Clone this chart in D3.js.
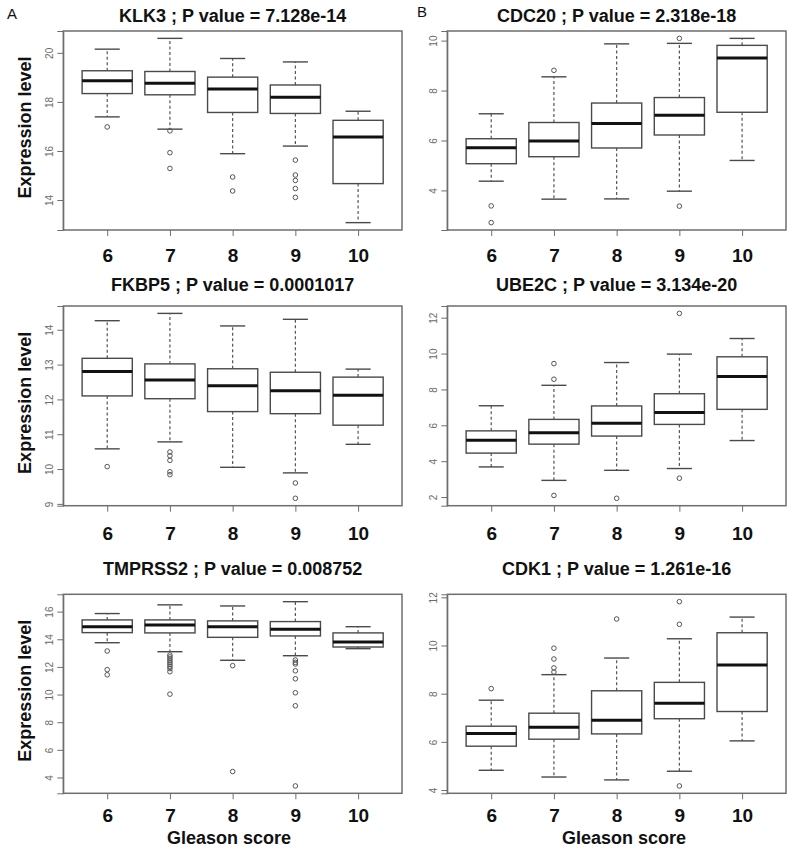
<!DOCTYPE html>
<html>
<head>
<meta charset="utf-8">
<script src="https://cdn.jsdelivr.net/npm/d3@7"></script>
<style>
  html, body { margin: 0; padding: 0; background: #fff; }
  svg { display: block; }
  text { font-family: "Liberation Sans", Arial, Helvetica, sans-serif; }
</style>
</head>
<body>
<svg id="chart" width="792" height="851"></svg>
<script>
// ---------- DATA ----------
const categories = ["6", "7", "8", "9", "10"];

// each row: [lower whisker, Q1, median, Q3, upper whisker]
const klk3Stats = [
  [17.39, 18.34, 18.86, 19.27, 20.15],
  [16.89, 18.29, 18.76, 19.24, 20.59],
  [15.89, 17.57, 18.53, 19.01, 19.77],
  [16.20, 17.53, 18.19, 18.69, 19.63],
  [13.08, 14.67, 16.57, 17.25, 17.62]
];
const klk3Outliers = [[16.98], [16.82, 15.93, 15.29], [14.94, 14.37], [15.63, 15.02, 14.80, 14.47, 14.11], []];

const cdc20Stats = [
  [4.37, 5.07, 5.71, 6.07, 7.07],
  [3.65, 5.35, 5.98, 6.72, 8.55],
  [3.66, 5.70, 6.68, 7.50, 9.87],
  [3.97, 6.22, 7.01, 7.72, 9.89],
  [5.20, 7.13, 9.30, 9.81, 10.09]
];
const cdc20Outliers = [[3.38, 2.71], [8.81], [], [10.09, 3.37], []];

const fkbp5Stats = [
  [10.58, 12.10, 12.80, 13.18, 14.26],
  [10.78, 12.02, 12.56, 13.02, 14.47],
  [10.05, 11.65, 12.39, 12.88, 14.11],
  [9.89, 11.59, 12.25, 12.78, 14.30],
  [10.71, 11.26, 12.12, 12.64, 12.87]
];
const fkbp5Outliers = [[10.07], [10.49, 10.38, 10.25, 9.92, 9.84], [], [9.60, 9.16], []];

const ube2cStats = [
  [3.68, 4.45, 5.17, 5.69, 7.09],
  [2.93, 4.95, 5.58, 6.33, 8.23],
  [3.49, 5.40, 6.12, 7.08, 9.50],
  [3.59, 6.05, 6.72, 7.76, 9.97],
  [5.15, 6.89, 8.72, 9.82, 10.84]
];
const ube2cOutliers = [[], [9.44, 8.57, 2.09], [1.93], [12.24, 3.05], []];

const tmprss2Stats = [
  [13.75, 14.48, 14.91, 15.40, 15.86],
  [13.10, 14.46, 15.04, 15.40, 16.49],
  [12.48, 14.14, 14.91, 15.33, 16.41],
  [12.81, 14.24, 14.72, 15.28, 16.72],
  [13.32, 13.44, 13.80, 14.46, 14.91]
];
const tmprss2Outliers = [
  [13.15, 11.80, 11.43],
  [12.86, 12.72, 12.58, 12.44, 12.30, 12.16, 12.02, 11.88, 11.65, 10.03],
  [12.09, 4.43],
  [12.50, 12.33, 12.21, 11.72, 11.14, 10.13, 9.19, 3.39],
  []
];

const cdk1Stats = [
  [4.82, 5.82, 6.35, 6.65, 7.73],
  [4.54, 6.11, 6.61, 7.19, 8.79],
  [4.42, 6.33, 6.90, 8.12, 9.48],
  [4.78, 6.96, 7.60, 8.47, 10.28],
  [6.04, 7.26, 9.19, 10.53, 11.18]
];
const cdk1Outliers = [[8.21], [9.89, 9.44, 9.07, 8.90], [11.10], [11.82, 10.88, 4.17], []];

const klk3Ticks = [14, 16, 18, 20];
const cdc20Ticks = [4, 6, 8, 10];
const fkbp5Ticks = [9, 10, 11, 12, 13, 14];
const ube2cTicks = [2, 4, 6, 8, 10, 12];
const tmprss2Ticks = [4, 6, 8, 10, 12, 14, 16];
const cdk1Ticks = [4, 6, 8, 10, 12];

const panelTitles = [
  "KLK3 ; P value = 7.128e-14",
  "CDC20 ; P value = 2.318e-18",
  "FKBP5 ; P value = 0.0001017",
  "UBE2C ; P value = 3.134e-20",
  "TMPRSS2 ; P value = 0.008752",
  "CDK1 ; P value = 1.261e-16"
];

// ---------- LAYOUT ----------
const cols = [{ x0: 63.3, x1: 402 }, { x0: 447.3, x1: 786 }];
const rows = [
  { y0: 31, y1: 230, title: 21.7, tick: 261.7 },
  { y0: 306, y1: 505.7, title: 290.7, tick: 540 },
  { y0: 594.3, y1: 793.3, title: 575, tick: 821.7 }
];

const panels = [
  { stats: klk3Stats, out: klk3Outliers, ticks: klk3Ticks, r: 0, c: 0 },
  { stats: cdc20Stats, out: cdc20Outliers, ticks: cdc20Ticks, r: 0, c: 1 },
  { stats: fkbp5Stats, out: fkbp5Outliers, ticks: fkbp5Ticks, r: 1, c: 0 },
  { stats: ube2cStats, out: ube2cOutliers, ticks: ube2cTicks, r: 1, c: 1 },
  { stats: tmprss2Stats, out: tmprss2Outliers, ticks: tmprss2Ticks, r: 2, c: 0 },
  { stats: cdk1Stats, out: cdk1Outliers, ticks: cdk1Ticks, r: 2, c: 1 }
];

const svg = d3.select("#chart");
const frameColor = "#6e6e6e";
const boxColor = "#4a4a4a";

panels.forEach((p, i) => {
  const col = cols[p.c], row = rows[p.r];
  const all = p.stats.flat().concat(p.out.flat());
  const [mn, mx] = d3.extent(all);
  const pad = (mx - mn) * 0.04;
  const y = d3.scaleLinear().domain([mn - pad, mx + pad]).range([row.y1, row.y0]);
  const x = d3.scaleLinear().domain([0.3, categories.length + 0.7]).range([col.x0, col.x1]);
  const unit = x(2) - x(1);
  const bw = unit * 0.8;
  const g = svg.append("g");

  // title
  g.append("text")
    .attr("x", (col.x0 + col.x1) / 2).attr("y", row.title)
    .attr("text-anchor", "middle")
    .attr("font-size", 18).attr("font-weight", "bold").attr("fill", "#111")
    .text(panelTitles[i]);

  // y axis
  const yAxis = d3.axisLeft(y).tickValues(p.ticks).tickSize(6).tickPadding(3).tickFormat(d3.format("d"));
  const ya = g.append("g").attr("transform", `translate(${col.x0},0)`).call(yAxis);
  ya.select(".domain").attr("stroke", frameColor);
  ya.selectAll(".tick line").attr("stroke", frameColor);
  ya.selectAll(".tick text")
    .attr("fill", "#6a6a6a").attr("font-size", 10)
    .attr("font-family", "'Liberation Sans', Arial, sans-serif")
    .attr("transform", "rotate(-90)")
    .attr("x", 0).attr("y", -14).attr("dy", "0.35em")
    .attr("text-anchor", "middle")
    .attr("transform", function(d) { return `rotate(-90)`; });
  // position rotated labels properly
  ya.selectAll(".tick text").each(function() {
    d3.select(this).attr("transform", "translate(-14,0) rotate(-90)").attr("x", 0).attr("y", 0);
  });

  // x axis
  const xAxis = d3.axisBottom(x).tickValues(d3.range(1, categories.length + 1))
    .tickSize(6).tickFormat(d => categories[d - 1]);
  const xa = g.append("g").attr("transform", `translate(0,${row.y1})`).call(xAxis);
  xa.select(".domain").remove();
  xa.selectAll(".tick line").attr("stroke", frameColor);
  xa.selectAll(".tick text")
    .attr("font-size", 19).attr("font-weight", "bold").attr("fill", "#111")
    .attr("font-family", "'Liberation Sans', Arial, sans-serif")
    .attr("dy", null).attr("y", row.tick - row.y1);

  // frame
  g.append("rect")
    .attr("x", col.x0).attr("y", row.y0)
    .attr("width", col.x1 - col.x0).attr("height", row.y1 - row.y0)
    .attr("fill", "none").attr("stroke", frameColor).attr("stroke-width", 1.5);

  // boxes
  p.stats.forEach((s, k) => {
    const cx = x(k + 1);
    const [lo, q1, med, q3, hi] = s;
    // whiskers
    g.append("line").attr("x1", cx).attr("x2", cx).attr("y1", y(q3)).attr("y2", y(hi))
      .attr("stroke", "#555").attr("stroke-width", 1.2).attr("stroke-dasharray", "3,2.5");
    g.append("line").attr("x1", cx).attr("x2", cx).attr("y1", y(q1)).attr("y2", y(lo))
      .attr("stroke", "#555").attr("stroke-width", 1.2).attr("stroke-dasharray", "3,2.5");
    // caps
    [lo, hi].forEach(v => {
      g.append("line").attr("x1", cx - bw / 4).attr("x2", cx + bw / 4)
        .attr("y1", y(v)).attr("y2", y(v))
        .attr("stroke", boxColor).attr("stroke-width", 1.4);
    });
    // box
    g.append("rect").attr("x", cx - bw / 2).attr("width", bw)
      .attr("y", y(q3)).attr("height", y(q1) - y(q3))
      .attr("fill", "#fff").attr("stroke", boxColor).attr("stroke-width", 1.4);
    // median
    g.append("line").attr("x1", cx - bw / 2).attr("x2", cx + bw / 2)
      .attr("y1", y(med)).attr("y2", y(med))
      .attr("stroke", "#111").attr("stroke-width", 3);
    // outliers
    p.out[k].forEach(v => {
      g.append("circle").attr("cx", cx).attr("cy", y(v)).attr("r", 2.3)
        .attr("fill", "none").attr("stroke", "#555").attr("stroke-width", 1);
    });
  });
});

// y-axis labels for left column
rows.forEach(row => {
  const cy = (row.y0 + row.y1) / 2 - 3;
  svg.append("text")
    .attr("transform", `translate(31,${cy}) rotate(-90)`)
    .attr("text-anchor", "middle")
    .attr("font-size", 18).attr("font-weight", "bold").attr("fill", "#111")
    .text("Expression level");
});

// x-axis labels (bottom row)
svg.append("text").attr("x", 229).attr("y", 844).attr("text-anchor", "middle")
  .attr("font-size", 18).attr("font-weight", "bold").attr("fill", "#111").text("Gleason score");
svg.append("text").attr("x", 624).attr("y", 844).attr("text-anchor", "middle")
  .attr("font-size", 18).attr("font-weight", "bold").attr("fill", "#111").text("Gleason score");

// panel letters
svg.append("text").attr("x", 7).attr("y", 18.5).attr("font-size", 15).attr("fill", "#111").text("A");
svg.append("text").attr("x", 417).attr("y", 17).attr("font-size", 15).attr("fill", "#111").text("B");
</script>
</body>
</html>
